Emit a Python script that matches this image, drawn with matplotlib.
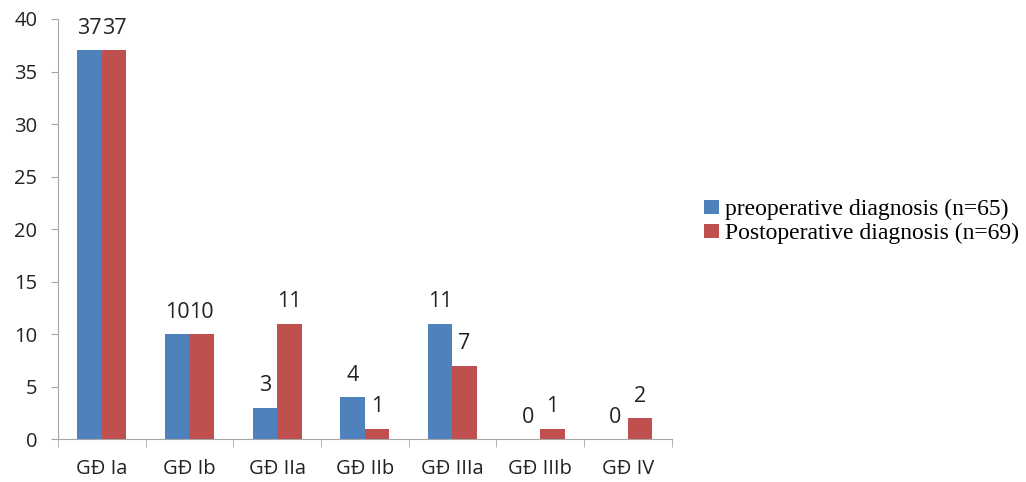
import matplotlib
matplotlib.use("Agg")
import matplotlib.pyplot as plt
import numpy as np

categories = ["GĐ Ia", "GĐ Ib", "GĐ IIa", "GĐ IIb", "GĐ IIIa", "GĐ IIIb", "GĐ IV"]
preop = [37, 10, 3, 4, 11, 0, 0]
postop = [37, 10, 11, 1, 7, 1, 2]
series_names = ["preoperative diagnosis (n=65)", "Postoperative diagnosis (n=69)"]

blue = "#4F81BD"
red = "#C0504D"
axis_col = "#A6A6A6"
txt_col = "#222222"

fig = plt.figure(figsize=(10.26, 4.82), dpi=100)
ax = fig.add_axes([0.0565, 0.089, 0.598, 0.8716])

x = np.arange(len(categories))
w = 0.28
b1 = ax.bar(x - w / 2, preop, w, color=blue, label=series_names[0])
b2 = ax.bar(x + w / 2, postop, w, color=red, label=series_names[1])

for bars, vals in ((b1, preop), (b2, postop)):
    for rect, v in zip(bars, vals):
        ax.annotate(str(v), (rect.get_x() + rect.get_width() / 2, rect.get_height()),
                    xytext=(0, 8), textcoords="offset points", ha="center", va="bottom",
                    fontsize=15.5, family="Open Sans", color=txt_col)

ax.set_xlim(-0.5, len(categories) - 0.5)
ax.set_ylim(0, 40)
ax.set_yticks(range(0, 41, 5))
ax.set_xticks(x)
ax.set_xticklabels(categories)
ax.set_xticks(np.arange(-0.5, len(categories), 1), minor=True)
ax.tick_params(axis="x", which="major", length=0, pad=14, labelsize=14.5)
ax.tick_params(axis="x", which="minor", length=6, color=axis_col)
ax.tick_params(axis="y", length=5, color=axis_col, labelsize=14.5, pad=10)
for lab in ax.get_xticklabels() + ax.get_yticklabels():
    lab.set_family("Open Sans")
    lab.set_color(txt_col)

for s in ("top", "right"):
    ax.spines[s].set_visible(False)
ax.spines["left"].set_color(axis_col)
ax.spines["bottom"].set_color(axis_col)

fig.legend(loc="center left", bbox_to_anchor=(0.665, 0.54), frameon=False,
           prop={"family": "Liberation Serif", "size": 17},
           handlelength=0.65, handleheight=0.55, handletextpad=0.25, labelspacing=0.12)

fig.savefig("out.png", dpi=100)
plt.close(fig)
